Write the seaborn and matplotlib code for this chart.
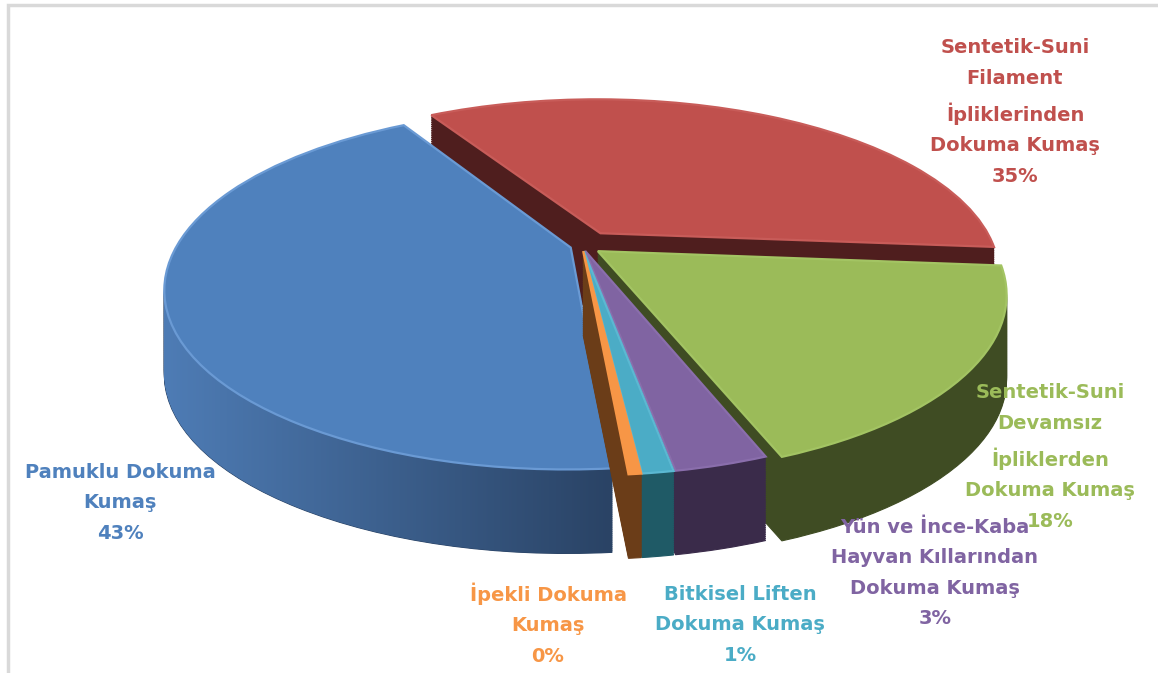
# ==========================================
# 3D-LOOK EXPLODED PIE: DOKUMA KUMAŞ PAYLARI
# ==========================================
import numpy as np
import matplotlib.pyplot as plt
import seaborn as sns
from matplotlib.path import Path
from matplotlib.patches import PathPatch, Rectangle
from matplotlib.colors import LinearSegmentedColormap
from matplotlib.transforms import Transform, Affine2D

# -------------------------------
# 1. DATA
# -------------------------------
categories = [
    "Pamuklu Dokuma\nKumaş",
    "Sentetik-Suni\nFilament\nİpliklerinden\nDokuma Kumaş",
    "Sentetik-Suni\nDevamsız\nİpliklerden\nDokuma Kumaş",
    "Yün ve İnce-Kaba\nHayvan Kıllarından\nDokuma Kumaş",
    "Bitkisel Liften\nDokuma Kumaş",
    "İpekli Dokuma\nKumaş",
]
shares = [43, 35, 18, 3, 1, 0.4]
pct_labels = ["43%", "35%", "18%", "3%", "1%", "0%"]
explode = [0.03, 0.09, 0.05, 0.03, 0.03, 0.03]

top_colors = ["#4F81BD", "#C0504D", "#9BBB59", "#8064A2", "#4BACC6", "#F79646"]
rim_colors = ["#6A9AD4", "#C85C59", "#A3C463", "#8A6EAC", "#5BB8D2", "#F79646"]
side_left = ["#4E7CB5", "#4F1E1E", "#3F4C23", "#3A2B4A", "#1F5A66", "#6B3D18"]
side_right = ["#2A4365", "#4F1E1E", "#3F4C23", "#3A2B4A", "#1F5A66", "#6B3D18"]
text_colors = ["#4F81BD", "#C0504D", "#9BBB59", "#8064A2", "#4BACC6", "#F79646"]
draw_rank = [1, 0, 2, 3, 4, 5]   # back to front

# label centres (figure pixels)
label_pos = [(120, 503), (1015, 112), (1050, 457), (935, 573), (740, 625), (548, 624)]


# -------------------------------
# 2. SIMPLE PERSPECTIVE (far side smaller)
# -------------------------------
class Perspective(Transform):
    input_dims = output_dims = 2

    def __init__(self, k):
        super().__init__()
        self.k = k

    def transform_non_affine(self, values):
        v = np.asarray(values, dtype=float)
        s = 1.0 / (1.0 + self.k * v[:, 1])
        return v * s[:, None]


# -------------------------------
# 3. FIGURE
# -------------------------------
sns.set_theme(style="white")
plt.rcParams['font.family'] = ['DejaVu Sans']

W, H = 1158, 673
fig = plt.figure(figsize=(W / 100, H / 100), dpi=100)
ax = fig.add_axes([0, 0, 1, 1])

cx, cy = 582, 246      # pie centre in pixels
rx, ry = 394, 170      # radii in pixels
depth = 84 / ry        # thickness in y data units
n_layers = 45
start = -85
persp = Perspective(0.23)

# side walls: stacked pies shifted downwards
layer_paths = [[] for _ in shares]
for k in range(n_layers, 0, -1):
    wedges, _ = ax.pie(shares, explode=explode, colors=side_right,
                       startangle=start, counterclock=False,
                       wedgeprops=dict(linewidth=0.8))
    shift = persp + Affine2D().translate(0, -depth * k / n_layers)
    for i, w in enumerate(wedges):
        w.set_transform(shift + ax.transData)
        w.set_edgecolor(side_right[i])
        w.set_zorder(draw_rank[i] * 100 + 1)
        layer_paths[i].append(shift.transform_path(w.get_path()))

# horizontal shading of the wide side wall
for i, paths in enumerate(layer_paths):
    if side_left[i] == side_right[i]:
        continue
    comp = Path.make_compound_path(*paths)
    clip = PathPatch(comp, transform=ax.transData, facecolor='none', edgecolor='none')
    ax.add_patch(clip)
    ext = comp.get_extents()
    cmap = LinearSegmentedColormap.from_list("s%d" % i, [side_left[i], side_right[i]])
    im = ax.imshow(np.linspace(0, 1, 256)[None, :], cmap=cmap, aspect='auto',
                   extent=(ext.x0, ext.x1, ext.y0, ext.y1), zorder=draw_rank[i] * 100 + 2)
    im.set_clip_path(clip)

# top faces with a light bevel rim
wedges, _ = ax.pie(shares, explode=explode, colors=top_colors,
                   startangle=start, counterclock=False,
                   wedgeprops=dict(linewidth=1.6))
for i, w in enumerate(wedges):
    w.set_transform(persp + ax.transData)
    w.set_edgecolor(rim_colors[i])
    w.set_zorder(draw_rank[i] * 100 + 50)

ax.set_aspect('auto')
ax.set_xlim(-cx / rx, (W - cx) / rx)
ax.set_ylim(-(H - cy) / ry, cy / ry)
ax.axis('off')

# -------------------------------
# 4. LABELS
# -------------------------------
for name, pct, col, (px, py) in zip(categories, pct_labels, text_colors, label_pos):
    fig.text(px / W, 1 - py / H, name + "\n" + pct, color=col,
             ha='center', va='center', multialignment='center',
             fontsize=14, fontweight='bold', linespacing=1.77)

# chart frame (only left and top edge fall inside the picture)
fig.add_artist(Rectangle((8 / W, -0.2), 1.5, 1.2 - 5 / H, transform=fig.transFigure,
                         facecolor='none', edgecolor="#D9D9D9", lw=2.5))

plt.savefig("out.png", dpi=100)
